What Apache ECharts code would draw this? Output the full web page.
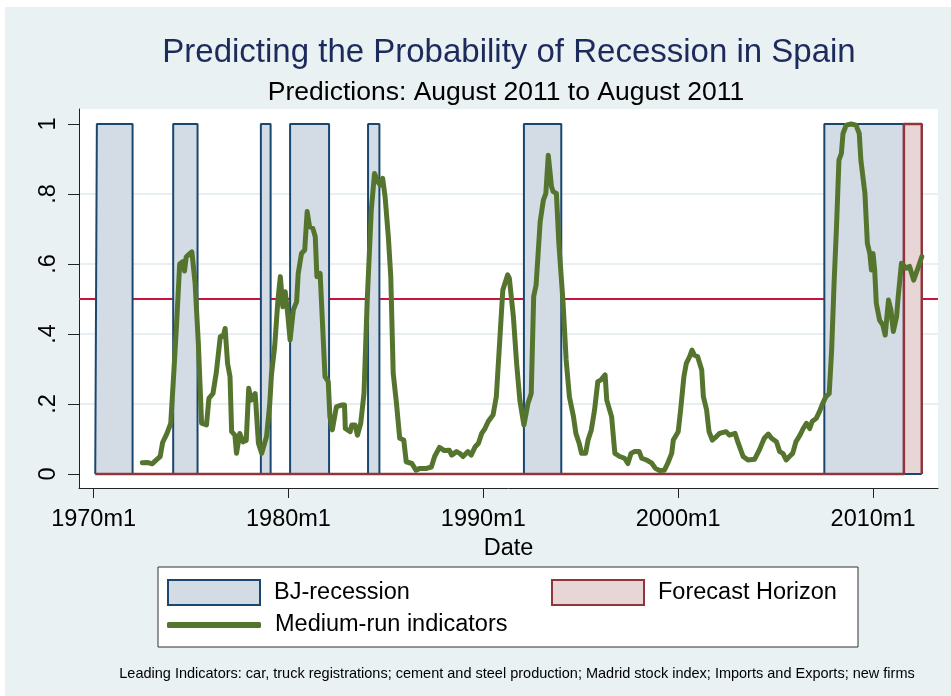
<!DOCTYPE html>
<html>
<head>
<meta charset="utf-8">
<title>Predicting the Probability of Recession in Spain</title>
<script src="https://cdn.jsdelivr.net/npm/echarts@6/dist/echarts.min.js"></script>
<style>
  html, body { margin: 0; padding: 0; background: #fff; }
  #chart { width: 951px; height: 696px; }
</style>
</head>
<body>
<div id="chart"></div>
<script>
// months counted from 1970m1 (= 0)
var recessionStart = [2, 49, 103, 121, 169, 265, 450];
var recessionEnd   = [24, 64, 109, 145, 176, 288, 499];
var forecastStart = 499;
var forecastEnd = 510;
var sampleStart = 1;
var threshold = 0.5;

// medium-run indicators model, predicted probability
var predMonth = [
  30, 33, 36, 39, 41, 42.5, 45, 47.5, 49, 51, 53, 55, 56, 57, 59, 60.5, 62.5, 64.5, 66.5, 69.5,
  71, 73.5, 75.5, 78, 80, 81, 82.5, 84, 85, 87, 88, 90, 92, 94, 95.5, 97, 99.5, 101.5, 103.5, 106.5,
  108.5, 109.5, 111.5, 113.5, 115, 116.5, 118, 119.5, 121, 123, 125, 126, 128, 130, 131.5, 133, 135, 136.5, 137.5, 139.5,
  142.5, 144.5, 145.5, 147, 149.5, 152.5, 154.5, 155, 158, 159, 161, 162.5, 164.5, 166.5, 168.5, 171, 173, 175, 176.5, 178,
  179.5, 181.5, 183, 184.5, 186.5, 188.5, 191, 192.5, 196, 198.5, 201, 205, 208, 210, 213, 216, 219, 220.5, 223.5, 225.5,
  227.5, 230.5, 232.5, 235, 237, 239, 241, 243, 246, 248, 250, 252, 255, 256, 258.5, 260.5, 262.5, 265, 267.5, 269.5,
  271, 272.5, 273.5, 275, 277, 278.5, 280, 282, 283, 285, 286.5, 289, 291, 293, 295.5, 297, 299, 300.5, 303, 304.5,
  306.5, 308.5, 310.5, 312.5, 315, 316, 319, 321, 324, 327, 329, 331, 333, 336, 337.5, 340.5, 343.5, 346, 348.5, 351.5,
  353.5, 356, 357, 360, 361.5, 363.5, 365, 367, 368.5, 370, 372, 374.5, 375.5, 377.5, 379, 381, 383.5, 385.5, 389.5, 391.5,
  395, 397, 400, 403, 407, 410, 413, 415.5, 417.5, 420.5, 422.5, 424.5, 426.5, 428.5, 430.5, 432.5, 435, 437, 439, 441,
  442.5, 445, 447, 449, 451, 453, 454.5, 456, 457.5, 459, 460.5, 461.5, 463.5, 466.5, 469.5, 471.5, 472.5, 475, 476.5, 478,
  479, 480, 481, 482, 484, 486, 487.5, 489.5, 491, 492.5, 494.5, 495.5, 497.5, 500.5, 502.5, 505, 506.5, 508, 510
];
var predValue = [
  0.032, 0.033, 0.029, 0.042, 0.05, 0.09, 0.114, 0.145, 0.26, 0.42, 0.60, 0.607, 0.58, 0.62, 0.629, 0.635, 0.545, 0.373, 0.145, 0.14,
  0.216, 0.23, 0.288, 0.392, 0.397, 0.416, 0.316, 0.278, 0.121, 0.111, 0.059, 0.116, 0.092, 0.096, 0.245, 0.211, 0.23, 0.088, 0.059, 0.107,
  0.202, 0.283, 0.364, 0.497, 0.564, 0.478, 0.521, 0.459, 0.383, 0.469, 0.492, 0.573, 0.63, 0.64, 0.75, 0.707, 0.702, 0.678, 0.564, 0.573,
  0.278, 0.264, 0.164, 0.126, 0.192, 0.197, 0.197, 0.13, 0.121, 0.14, 0.14, 0.111, 0.145, 0.23, 0.497, 0.754, 0.859, 0.835, 0.826, 0.845,
  0.792, 0.678, 0.564, 0.288, 0.202, 0.102, 0.097, 0.035, 0.03, 0.011, 0.016, 0.016, 0.02, 0.05, 0.076, 0.067, 0.068, 0.054, 0.064, 0.059,
  0.05, 0.064, 0.054, 0.078, 0.088, 0.116, 0.13, 0.15, 0.169, 0.221, 0.373, 0.526, 0.569, 0.56, 0.45, 0.316, 0.21, 0.14, 0.202, 0.23,
  0.507, 0.54, 0.545, 0.721, 0.783, 0.802, 0.911, 0.821, 0.807, 0.802, 0.659, 0.497, 0.326, 0.221, 0.164, 0.116, 0.088, 0.059, 0.059, 0.097,
  0.126, 0.183, 0.264, 0.269, 0.283, 0.211, 0.164, 0.059, 0.05, 0.045, 0.03, 0.059, 0.064, 0.064, 0.045, 0.04, 0.032, 0.016, 0.01, 0.011,
  0.03, 0.059, 0.097, 0.121, 0.183, 0.278, 0.316, 0.335, 0.354, 0.34, 0.335, 0.297, 0.221, 0.183, 0.121, 0.097, 0.107, 0.116, 0.121, 0.111,
  0.116, 0.088, 0.05, 0.04, 0.042, 0.069, 0.102, 0.114, 0.102, 0.092, 0.064, 0.059, 0.04, 0.05, 0.059, 0.092, 0.111, 0.13, 0.145, 0.13,
  0.15, 0.159, 0.178, 0.202, 0.221, 0.23, 0.354, 0.545, 0.707, 0.897, 0.916, 0.973, 0.997, 1.0, 0.997, 0.973, 0.897, 0.802, 0.659, 0.63,
  0.583, 0.63, 0.583, 0.488, 0.44, 0.426, 0.397, 0.497, 0.469, 0.407, 0.45, 0.507, 0.602, 0.588, 0.593, 0.554, 0.573, 0.593, 0.621
];

var xTickMonths = [0, 120, 240, 360, 480];
var xTickLabels = ['1970m1', '1980m1', '1990m1', '2000m1', '2010m1'];
var yTicks = [0, 0.2, 0.4, 0.6, 0.8, 1];
var yTickLabels = ['0', '.2', '.4', '.6', '.8', '1'];

var font = '"Liberation Sans", Arial, sans-serif';
var xMin = -9, xMax = 520;

// 0/1 indicator outlines built from the band arrays
var recessionData = [[sampleStart, 0]];
for (var i = 0; i < recessionStart.length; i++) {
  recessionData.push([recessionStart[i], 0], [recessionStart[i], 1],
                     [recessionEnd[i], 1], [recessionEnd[i], 0]);
}
recessionData.push([forecastEnd, 0]);

var forecastData = [[sampleStart, 0], [forecastStart, 0], [forecastStart, 1],
                    [forecastEnd, 1], [forecastEnd, 0]];

var predData = predMonth.map(function (m, i) { return [m, predValue[i]]; });

var chart = echarts.init(document.getElementById('chart'));

var option = {
  animation: false,
  graphic: [
    { type: 'rect', z: -100, shape: { x: 5, y: 7, width: 946, height: 689 },
      style: { fill: '#e9f1f3' } },
    { type: 'rect', z: -50, shape: { x: 158, y: 567, width: 700, height: 80 },
      style: { fill: '#fff', stroke: '#333', lineWidth: 1 } },
    { type: 'text', x: 509, y: 53,
      style: { text: 'Predicting the Probability of Recession in Spain', align: 'center', verticalAlign: 'middle',
               fontFamily: font, fontSize: 33, fill: '#1c2a5c' } },
    { type: 'text', x: 506, y: 93,
      style: { text: 'Predictions: August 2011 to August 2011', align: 'center', verticalAlign: 'middle',
               fontFamily: font, fontSize: 26.5, fill: '#000' } },
    { type: 'text', x: 517, y: 674,
      style: { text: 'Leading Indicators: car, truck registrations; cement and steel production; Madrid stock index; Imports and Exports; new firms',
               align: 'center', verticalAlign: 'middle', fontFamily: font, fontSize: 14.5, fill: '#000' } }
  ],
  grid: {
    left: 79, right: 13, top: 109, bottom: 208,
    show: true, backgroundColor: '#fff', borderWidth: 0,
    containLabel: false, outerBoundsMode: 'none'
  },
  legend: [
    {
      left: 167, top: 579, padding: 0, selectedMode: false,
      icon: 'rect', itemWidth: 92, itemHeight: 25,
      textStyle: { fontFamily: font, fontSize: 23.5, color: '#000', padding: [0, 0, 0, 9] },
      data: [{ name: 'BJ-recession', itemStyle: { color: '#d3dce5', borderColor: '#1a476f', borderWidth: 2 } }]
    },
    {
      left: 551, top: 579, padding: 0, selectedMode: false,
      icon: 'rect', itemWidth: 92, itemHeight: 25,
      textStyle: { fontFamily: font, fontSize: 23.5, color: '#000', padding: [0, 0, 0, 9] },
      data: [{ name: 'Forecast Horizon', itemStyle: { color: '#e8d5d6', borderColor: '#90353b', borderWidth: 2 } }]
    },
    {
      left: 167, top: 613, padding: 0, selectedMode: false,
      icon: 'roundRect', itemWidth: 94, itemHeight: 6,
      textStyle: { fontFamily: font, fontSize: 23.5, color: '#000', padding: [0, 0, 0, 9] },
      data: [{ name: 'Medium-run indicators', itemStyle: { color: '#55752f', borderWidth: 0 } }]
    }
  ],
  xAxis: {
    type: 'value', min: xMin, max: xMax,
    name: 'Date', nameLocation: 'middle', nameGap: 40,
    nameTextStyle: { fontFamily: font, fontSize: 23.5, color: '#000' },
    axisLine: { show: true, onZero: false, lineStyle: { color: '#222', width: 1 } },
    axisTick: { show: true, length: 10, customValues: xTickMonths, lineStyle: { color: '#222' } },
    axisLabel: {
      customValues: xTickMonths, margin: 20,
      fontFamily: font, fontSize: 23.5, color: '#000',
      formatter: function (v) { return xTickLabels[xTickMonths.indexOf(v)]; }
    },
    splitLine: { show: false }
  },
  yAxis: {
    type: 'value', min: -0.04, max: 1.043,
    axisLine: { show: true, onZero: false, lineStyle: { color: '#222', width: 1 } },
    axisTick: { show: true, length: 11, customValues: yTicks, lineStyle: { color: '#222' } },
    axisLabel: {
      customValues: yTicks, rotate: 90, margin: 18,
      fontFamily: font, fontSize: 23.5, color: '#000',
      formatter: function (v) {
        for (var k = 0; k < yTicks.length; k++) {
          if (Math.abs(yTicks[k] - v) < 1e-9) return yTickLabels[k];
        }
        return '';
      }
    },
    splitLine: { show: true, showMinLine: false, showMaxLine: false,
                 lineStyle: { color: '#e8eff2', width: 2 } }
  },
  series: [
    {
      name: 'threshold', type: 'line', z: 1, silent: true,
      symbol: 'none',
      data: [[xMin, threshold], [xMax, threshold]],
      lineStyle: { color: '#c8143c', width: 2 }
    },
    {
      name: 'BJ-recession', type: 'line', z: 2,
      symbol: 'none',
      data: recessionData,
      lineStyle: { color: '#1a476f', width: 2 },
      areaStyle: { color: '#d3dce5', opacity: 1, origin: 0 }
    },
    {
      name: 'Forecast Horizon', type: 'line', z: 2,
      symbol: 'none',
      data: forecastData,
      lineStyle: { color: '#90353b', width: 2.5 },
      areaStyle: { color: '#e8d5d6', opacity: 1, origin: 0 }
    },
    {
      name: 'Medium-run indicators', type: 'line', z: 3,
      symbol: 'none',
      data: predData,
      lineStyle: { color: '#55752f', width: 5, join: 'round', cap: 'round' }
    }
  ]
};

chart.setOption(option);
</script>
</body>
</html>
